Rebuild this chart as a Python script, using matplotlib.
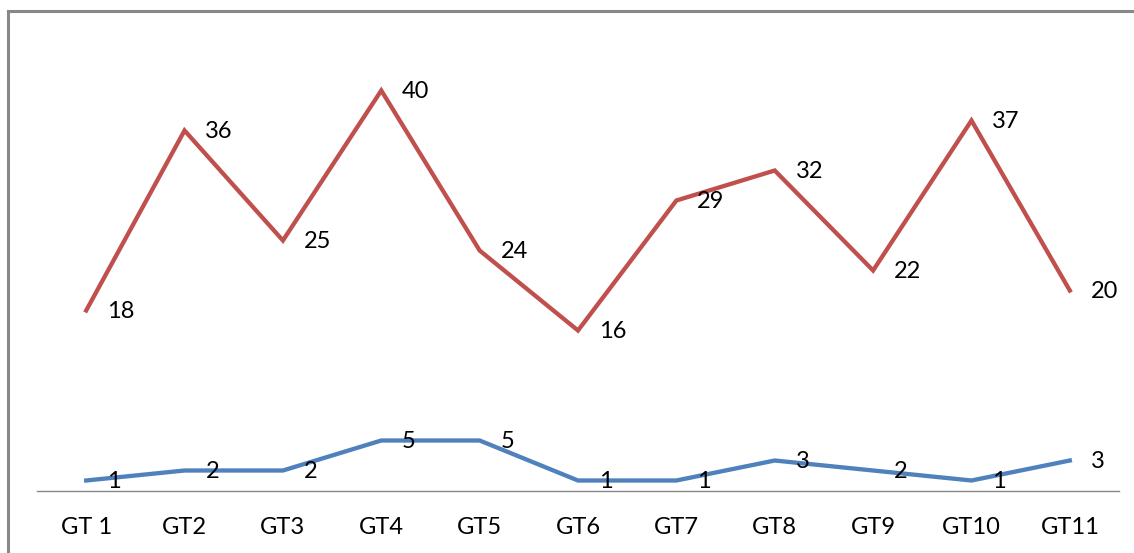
import matplotlib
matplotlib.use("Agg")
import matplotlib.pyplot as plt
from matplotlib.lines import Line2D

categories = ["GT 1", "GT2", "GT3", "GT4", "GT5", "GT6", "GT7", "GT8", "GT9", "GT10", "GT11"]
red_values = [18, 36, 25, 40, 24, 16, 29, 32, 22, 37, 20]
blue_values = [1, 2, 2, 5, 5, 1, 1, 3, 2, 1, 3]

W, H = 1134, 553
fig = plt.figure(figsize=(W / 100, H / 100), dpi=100)
plt.rcParams["font.family"] = ["Lato", "DejaVu Sans"]

left, right = 37 / W, 1119 / W
bottom, top = (H - 490.5) / H, (H - 40.5) / H
ax = fig.add_axes([left, bottom, right - left, top - bottom])

x = list(range(len(categories)))
red = "#C0504D"
blue = "#4F81BD"
ax.plot(x, red_values, color=red, lw=3.1, solid_joinstyle="miter", zorder=3)
ax.plot(x, blue_values, color=blue, lw=3.1, solid_joinstyle="miter", zorder=3)

label_kw = dict(textcoords="offset points", ha="left", va="center",
                fontsize=17, color="black", zorder=4)
for xi, v in zip(x, red_values):
    ax.annotate(str(v), (xi, v), xytext=(15, -1), **label_kw)
for xi, v in zip(x, blue_values):
    ax.annotate(str(v), (xi, v), xytext=(15, -1), **label_kw)

ax.set_xlim(-0.5, len(categories) - 0.5)
ax.set_ylim(0, 45)
ax.set_xticks(x)
ax.set_xticklabels(categories, fontsize=17)
ax.tick_params(axis="x", length=0, pad=19)
ax.set_yticks([])
for side in ("left", "right", "top"):
    ax.spines[side].set_visible(False)
ax.spines["bottom"].set_color("#868686")
ax.spines["bottom"].set_linewidth(1.0)

# outer chart frame (left and top edges)
fx = 8 / W
fy = 1 - 11 / H
fig.add_artist(Line2D([fx, fx], [0, fy], transform=fig.transFigure,
                      color="#888888", lw=2.2, solid_capstyle="projecting"))
fig.add_artist(Line2D([fx, 1], [fy, fy], transform=fig.transFigure,
                      color="#888888", lw=2.2, solid_capstyle="projecting"))

fig.savefig("out.png", dpi=100, facecolor="white")
